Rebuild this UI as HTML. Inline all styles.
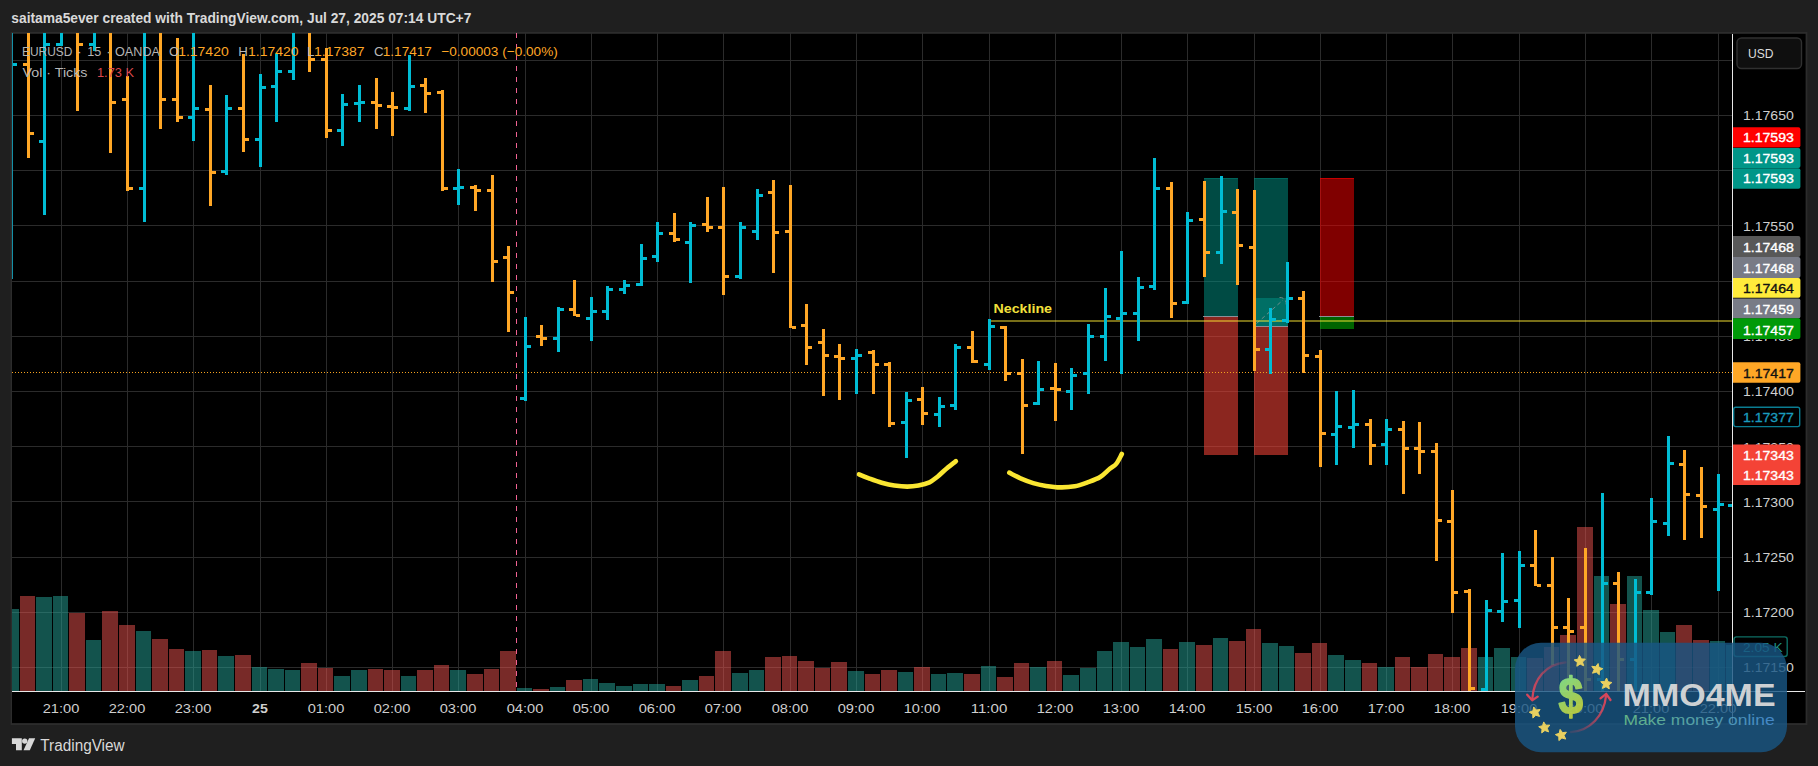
<!DOCTYPE html>
<html lang="en"><head><meta charset="utf-8"><title>EURUSD 15 OANDA chart</title>
<style>
html,body{margin:0;padding:0;background:#1f1f1f;}
body{width:1818px;height:766px;overflow:hidden;position:relative;font-family:"Liberation Sans",sans-serif;}
svg{position:absolute;left:0;top:0;display:block}
text{font-family:"Liberation Sans",sans-serif;}
</style></head><body>
<svg width="1818" height="766" viewBox="0 0 1818 766">
<defs>
<clipPath id="cp"><rect x="12" y="33" width="1720" height="658"/></clipPath>
<linearGradient id="gd" gradientUnits="userSpaceOnUse" x1="-14" y1="-36" x2="14" y2="2"><stop offset="0" stop-color="#86e88a"/><stop offset="1" stop-color="#cfd232"/></linearGradient>
<linearGradient id="ga1" gradientUnits="userSpaceOnUse" x1="1566" y1="662" x2="1532" y2="700"><stop offset="0" stop-color="#d7465a" stop-opacity="0.15"/><stop offset="0.6" stop-color="#d7465a" stop-opacity="0.8"/><stop offset="1" stop-color="#d7465a"/></linearGradient>
<linearGradient id="ga2" gradientUnits="userSpaceOnUse" x1="1571" y1="732" x2="1606" y2="695"><stop offset="0" stop-color="#d7465a" stop-opacity="0.15"/><stop offset="0.6" stop-color="#d7465a" stop-opacity="0.8"/><stop offset="1" stop-color="#d7465a"/></linearGradient>
<linearGradient id="gt" x1="0" y1="0" x2="1" y2="0"><stop offset="0" stop-color="#6fc48a"/><stop offset="1" stop-color="#4a8fd6"/></linearGradient>
</defs>

<rect x="0" y="0" width="1818" height="766" fill="#1f1f1f"/>
<rect x="10.6" y="32" width="1796.8" height="693" fill="#2c2c2c"/>
<rect x="12" y="33.8" width="1793.6" height="689.3" fill="#000"/>
<text x="11.3" y="23.1" font-size="14.4" font-weight="bold" fill="#d9d9d9" textLength="460" lengthAdjust="spacingAndGlyphs">saitama5ever created with TradingView.com, Jul 27, 2025 07:14 UTC+7</text>
<g shape-rendering="crispEdges" stroke="#2b2b2b" stroke-width="1">
<line x1="12" x2="1732" y1="60.5" y2="60.5"/>
<line x1="12" x2="1732" y1="115.5" y2="115.5"/>
<line x1="12" x2="1732" y1="170.5" y2="170.5"/>
<line x1="12" x2="1732" y1="225.5" y2="225.5"/>
<line x1="12" x2="1732" y1="281.5" y2="281.5"/>
<line x1="12" x2="1732" y1="336.5" y2="336.5"/>
<line x1="12" x2="1732" y1="391.5" y2="391.5"/>
<line x1="12" x2="1732" y1="446.5" y2="446.5"/>
<line x1="12" x2="1732" y1="501.5" y2="501.5"/>
<line x1="12" x2="1732" y1="557.5" y2="557.5"/>
<line x1="12" x2="1732" y1="612.5" y2="612.5"/>
<line x1="12" x2="1732" y1="667.5" y2="667.5"/>
<line x1="61.5" x2="61.5" y1="33" y2="691"/>
<line x1="127.5" x2="127.5" y1="33" y2="691"/>
<line x1="193.5" x2="193.5" y1="33" y2="691"/>
<line x1="260.5" x2="260.5" y1="33" y2="691"/>
<line x1="326.5" x2="326.5" y1="33" y2="691"/>
<line x1="392.5" x2="392.5" y1="33" y2="691"/>
<line x1="458.5" x2="458.5" y1="33" y2="691"/>
<line x1="525.5" x2="525.5" y1="33" y2="691"/>
<line x1="591.5" x2="591.5" y1="33" y2="691"/>
<line x1="657.5" x2="657.5" y1="33" y2="691"/>
<line x1="723.5" x2="723.5" y1="33" y2="691"/>
<line x1="790.5" x2="790.5" y1="33" y2="691"/>
<line x1="856.5" x2="856.5" y1="33" y2="691"/>
<line x1="922.5" x2="922.5" y1="33" y2="691"/>
<line x1="989.5" x2="989.5" y1="33" y2="691"/>
<line x1="1055.5" x2="1055.5" y1="33" y2="691"/>
<line x1="1121.5" x2="1121.5" y1="33" y2="691"/>
<line x1="1187.5" x2="1187.5" y1="33" y2="691"/>
<line x1="1254.5" x2="1254.5" y1="33" y2="691"/>
<line x1="1320.5" x2="1320.5" y1="33" y2="691"/>
<line x1="1386.5" x2="1386.5" y1="33" y2="691"/>
<line x1="1452.5" x2="1452.5" y1="33" y2="691"/>
<line x1="1519.5" x2="1519.5" y1="33" y2="691"/>
<line x1="1585.5" x2="1585.5" y1="33" y2="691"/>
<line x1="1651.5" x2="1651.5" y1="33" y2="691"/>
<line x1="1718.5" x2="1718.5" y1="33" y2="691"/>
</g>
<line x1="516.5" x2="516.5" y1="33" y2="691" stroke="#f06292" stroke-width="1" stroke-dasharray="5 6" shape-rendering="crispEdges"/>
<g clip-path="url(#cp)" shape-rendering="crispEdges">
<rect x="3" y="609" width="16" height="82" fill="rgba(38,166,154,0.5)"/>
<rect x="20" y="596" width="15" height="95" fill="rgba(239,83,80,0.5)"/>
<rect x="36" y="597" width="16" height="94" fill="rgba(38,166,154,0.5)"/>
<rect x="53" y="596" width="15" height="95" fill="rgba(38,166,154,0.5)"/>
<rect x="69" y="613" width="16" height="78" fill="rgba(239,83,80,0.5)"/>
<rect x="86" y="640" width="15" height="51" fill="rgba(38,166,154,0.5)"/>
<rect x="102" y="611" width="16" height="80" fill="rgba(239,83,80,0.5)"/>
<rect x="119" y="625" width="16" height="66" fill="rgba(239,83,80,0.5)"/>
<rect x="136" y="631" width="15" height="60" fill="rgba(38,166,154,0.5)"/>
<rect x="152" y="639" width="16" height="52" fill="rgba(239,83,80,0.5)"/>
<rect x="169" y="649" width="15" height="42" fill="rgba(239,83,80,0.5)"/>
<rect x="185" y="651" width="16" height="40" fill="rgba(38,166,154,0.5)"/>
<rect x="202" y="650" width="15" height="41" fill="rgba(239,83,80,0.5)"/>
<rect x="218" y="656" width="16" height="35" fill="rgba(38,166,154,0.5)"/>
<rect x="235" y="655" width="16" height="36" fill="rgba(239,83,80,0.5)"/>
<rect x="252" y="667" width="15" height="24" fill="rgba(38,166,154,0.5)"/>
<rect x="268" y="669" width="16" height="22" fill="rgba(38,166,154,0.5)"/>
<rect x="285" y="670" width="15" height="21" fill="rgba(38,166,154,0.5)"/>
<rect x="301" y="663" width="16" height="28" fill="rgba(239,83,80,0.5)"/>
<rect x="318" y="668" width="15" height="23" fill="rgba(239,83,80,0.5)"/>
<rect x="334" y="676" width="16" height="15" fill="rgba(38,166,154,0.5)"/>
<rect x="351" y="670" width="16" height="21" fill="rgba(38,166,154,0.5)"/>
<rect x="368" y="669" width="15" height="22" fill="rgba(239,83,80,0.5)"/>
<rect x="384" y="670" width="16" height="21" fill="rgba(239,83,80,0.5)"/>
<rect x="401" y="676" width="15" height="15" fill="rgba(38,166,154,0.5)"/>
<rect x="417" y="670" width="16" height="21" fill="rgba(239,83,80,0.5)"/>
<rect x="434" y="665" width="15" height="26" fill="rgba(239,83,80,0.5)"/>
<rect x="450" y="670" width="16" height="21" fill="rgba(38,166,154,0.5)"/>
<rect x="467" y="674" width="16" height="17" fill="rgba(239,83,80,0.5)"/>
<rect x="484" y="669" width="15" height="22" fill="rgba(239,83,80,0.5)"/>
<rect x="500" y="651" width="16" height="40" fill="rgba(239,83,80,0.5)"/>
<rect x="517" y="688" width="15" height="3" fill="rgba(38,166,154,0.5)"/>
<rect x="533" y="689" width="16" height="2" fill="rgba(239,83,80,0.5)"/>
<rect x="550" y="687" width="15" height="4" fill="rgba(38,166,154,0.5)"/>
<rect x="566" y="680" width="16" height="11" fill="rgba(239,83,80,0.5)"/>
<rect x="583" y="679" width="15" height="12" fill="rgba(38,166,154,0.5)"/>
<rect x="599" y="683" width="16" height="8" fill="rgba(38,166,154,0.5)"/>
<rect x="616" y="686" width="16" height="5" fill="rgba(38,166,154,0.5)"/>
<rect x="633" y="684" width="15" height="7" fill="rgba(38,166,154,0.5)"/>
<rect x="649" y="684" width="16" height="7" fill="rgba(38,166,154,0.5)"/>
<rect x="666" y="686" width="15" height="5" fill="rgba(239,83,80,0.5)"/>
<rect x="682" y="680" width="16" height="11" fill="rgba(38,166,154,0.5)"/>
<rect x="699" y="676" width="15" height="15" fill="rgba(239,83,80,0.5)"/>
<rect x="715" y="651" width="16" height="40" fill="rgba(239,83,80,0.5)"/>
<rect x="732" y="673" width="16" height="18" fill="rgba(38,166,154,0.5)"/>
<rect x="749" y="670" width="15" height="21" fill="rgba(38,166,154,0.5)"/>
<rect x="765" y="657" width="16" height="34" fill="rgba(239,83,80,0.5)"/>
<rect x="782" y="656" width="15" height="35" fill="rgba(239,83,80,0.5)"/>
<rect x="798" y="661" width="16" height="30" fill="rgba(239,83,80,0.5)"/>
<rect x="815" y="668" width="15" height="23" fill="rgba(239,83,80,0.5)"/>
<rect x="831" y="662" width="16" height="29" fill="rgba(239,83,80,0.5)"/>
<rect x="848" y="671" width="16" height="20" fill="rgba(38,166,154,0.5)"/>
<rect x="865" y="674" width="15" height="17" fill="rgba(239,83,80,0.5)"/>
<rect x="881" y="670" width="16" height="21" fill="rgba(239,83,80,0.5)"/>
<rect x="898" y="672" width="15" height="19" fill="rgba(38,166,154,0.5)"/>
<rect x="914" y="667" width="16" height="24" fill="rgba(239,83,80,0.5)"/>
<rect x="931" y="674" width="15" height="17" fill="rgba(38,166,154,0.5)"/>
<rect x="947" y="673" width="16" height="18" fill="rgba(38,166,154,0.5)"/>
<rect x="964" y="674" width="16" height="17" fill="rgba(239,83,80,0.5)"/>
<rect x="981" y="666" width="15" height="25" fill="rgba(38,166,154,0.5)"/>
<rect x="997" y="677" width="16" height="14" fill="rgba(239,83,80,0.5)"/>
<rect x="1014" y="663" width="15" height="28" fill="rgba(239,83,80,0.5)"/>
<rect x="1030" y="667" width="16" height="24" fill="rgba(38,166,154,0.5)"/>
<rect x="1047" y="661" width="15" height="30" fill="rgba(239,83,80,0.5)"/>
<rect x="1063" y="675" width="16" height="16" fill="rgba(38,166,154,0.5)"/>
<rect x="1080" y="668" width="16" height="23" fill="rgba(38,166,154,0.5)"/>
<rect x="1097" y="651" width="15" height="40" fill="rgba(38,166,154,0.5)"/>
<rect x="1113" y="642" width="16" height="49" fill="rgba(38,166,154,0.5)"/>
<rect x="1130" y="647" width="15" height="44" fill="rgba(38,166,154,0.5)"/>
<rect x="1146" y="639" width="16" height="52" fill="rgba(38,166,154,0.5)"/>
<rect x="1163" y="649" width="15" height="42" fill="rgba(239,83,80,0.5)"/>
<rect x="1179" y="642" width="16" height="49" fill="rgba(38,166,154,0.5)"/>
<rect x="1196" y="645" width="16" height="46" fill="rgba(239,83,80,0.5)"/>
<rect x="1213" y="638" width="15" height="53" fill="rgba(38,166,154,0.5)"/>
<rect x="1229" y="641" width="16" height="50" fill="rgba(239,83,80,0.5)"/>
<rect x="1246" y="629" width="15" height="62" fill="rgba(239,83,80,0.5)"/>
<rect x="1262" y="643" width="16" height="48" fill="rgba(38,166,154,0.5)"/>
<rect x="1279" y="646" width="15" height="45" fill="rgba(38,166,154,0.5)"/>
<rect x="1295" y="653" width="16" height="38" fill="rgba(239,83,80,0.5)"/>
<rect x="1312" y="643" width="15" height="48" fill="rgba(239,83,80,0.5)"/>
<rect x="1328" y="655" width="16" height="36" fill="rgba(38,166,154,0.5)"/>
<rect x="1345" y="660" width="16" height="31" fill="rgba(38,166,154,0.5)"/>
<rect x="1362" y="663" width="15" height="28" fill="rgba(239,83,80,0.5)"/>
<rect x="1378" y="667" width="16" height="24" fill="rgba(38,166,154,0.5)"/>
<rect x="1395" y="657" width="15" height="34" fill="rgba(239,83,80,0.5)"/>
<rect x="1411" y="667" width="16" height="24" fill="rgba(239,83,80,0.5)"/>
<rect x="1428" y="654" width="15" height="37" fill="rgba(239,83,80,0.5)"/>
<rect x="1444" y="657" width="16" height="34" fill="rgba(239,83,80,0.5)"/>
<rect x="1461" y="648" width="16" height="43" fill="rgba(239,83,80,0.5)"/>
<rect x="1478" y="657" width="15" height="34" fill="rgba(38,166,154,0.5)"/>
<rect x="1494" y="648" width="16" height="43" fill="rgba(38,166,154,0.5)"/>
<rect x="1511" y="657" width="15" height="34" fill="rgba(38,166,154,0.5)"/>
<rect x="1527" y="658" width="16" height="33" fill="rgba(239,83,80,0.5)"/>
<rect x="1544" y="647" width="15" height="44" fill="rgba(239,83,80,0.5)"/>
<rect x="1560" y="635" width="16" height="56" fill="rgba(239,83,80,0.5)"/>
<rect x="1577" y="527" width="16" height="164" fill="rgba(239,83,80,0.5)"/>
<rect x="1594" y="576" width="15" height="115" fill="rgba(38,166,154,0.5)"/>
<rect x="1610" y="604" width="16" height="87" fill="rgba(239,83,80,0.5)"/>
<rect x="1627" y="576" width="15" height="115" fill="rgba(38,166,154,0.5)"/>
<rect x="1643" y="610" width="16" height="81" fill="rgba(38,166,154,0.5)"/>
<rect x="1660" y="632" width="15" height="59" fill="rgba(38,166,154,0.5)"/>
<rect x="1676" y="625" width="16" height="66" fill="rgba(239,83,80,0.5)"/>
<rect x="1693" y="640" width="16" height="51" fill="rgba(239,83,80,0.5)"/>
<rect x="1710" y="641" width="15" height="50" fill="rgba(38,166,154,0.5)"/>
<rect x="1726" y="645" width="16" height="46" fill="rgba(38,166,154,0.5)"/>
</g>
<g shape-rendering="crispEdges">
<rect x="1204" y="178" width="34" height="138" fill="#009688" fill-opacity="0.5"/>
<rect x="1204" y="178" width="34" height="1" fill="#009688" fill-opacity="0.35"/>
<rect x="1204" y="317" width="34" height="138" fill="#f44336" fill-opacity="0.57"/>
<rect x="1203" y="316" width="35" height="1" fill="#8d8f98"/>
<rect x="1254" y="178" width="34" height="120" fill="#009688" fill-opacity="0.5"/>
<rect x="1254" y="178" width="34" height="1" fill="#009688" fill-opacity="0.35"/>
<rect x="1254" y="298" width="34" height="28" fill="#009688" fill-opacity="0.74"/>
<rect x="1254" y="327" width="34" height="128" fill="#f44336" fill-opacity="0.57"/>
<rect x="1254" y="326" width="34" height="1" fill="#8d8f98"/>
<rect x="1320" y="178" width="34" height="138" fill="#ff0000" fill-opacity="0.5"/>
<rect x="1320" y="178" width="34" height="1" fill="#ff0000" fill-opacity="0.55"/>
<rect x="1320" y="178" width="1" height="138" fill="#ff0000" fill-opacity="0.15"/>
<rect x="1320" y="317" width="34" height="12" fill="#00c800" fill-opacity="0.5"/>
<rect x="1319" y="316" width="35" height="1" fill="#8d8f98"/>
</g>
<path d="M1256.5 323.5 L1283 300 M1279.5 297.5 A 6 6 0 0 1 1286 305" fill="none" stroke="#8a9494" stroke-opacity="0.8" stroke-width="1" stroke-dasharray="4 3"/>
<rect x="989" y="320" width="743" height="2" fill="#fae632" fill-opacity="0.48" shape-rendering="crispEdges"/>
<text x="993.5" y="312.5" font-size="12.5" font-weight="bold" fill="#f2e03c" textLength="58.5" lengthAdjust="spacingAndGlyphs">Neckline</text>
<line x1="12" x2="1732" y1="372.5" y2="372.5" stroke="#f5a21f" stroke-width="1" stroke-dasharray="1 2" shape-rendering="crispEdges"/>
<g clip-path="url(#cp)" shape-rendering="crispEdges">
<rect x="12" y="33" width="1" height="246" fill="#1590a6"/><rect x="13" y="63" width="4" height="3" fill="#00bcd4"/>
<rect x="27" y="20" width="3" height="138" fill="#ffa726"/>
<rect x="23" y="63" width="4" height="3" fill="#ffa726"/>
<rect x="30" y="132" width="4" height="3" fill="#ffa726"/>
<rect x="43" y="20" width="3" height="195" fill="#00bcd4"/>
<rect x="39" y="140" width="4" height="3" fill="#00bcd4"/>
<rect x="46" y="43" width="4" height="3" fill="#00bcd4"/>
<rect x="60" y="20" width="3" height="26" fill="#00bcd4"/>
<rect x="56" y="43" width="4" height="3" fill="#00bcd4"/>
<rect x="63" y="18" width="4" height="3" fill="#00bcd4"/>
<rect x="76" y="20" width="3" height="91" fill="#ffa726"/>
<rect x="72" y="18" width="4" height="3" fill="#ffa726"/>
<rect x="79" y="43" width="4" height="3" fill="#ffa726"/>
<rect x="93" y="20" width="3" height="31" fill="#00bcd4"/>
<rect x="89" y="43" width="4" height="3" fill="#00bcd4"/>
<rect x="96" y="18" width="4" height="3" fill="#00bcd4"/>
<rect x="109" y="20" width="3" height="133" fill="#ffa726"/>
<rect x="105" y="18" width="4" height="3" fill="#ffa726"/>
<rect x="112" y="101" width="4" height="3" fill="#ffa726"/>
<rect x="126" y="76" width="3" height="115" fill="#ffa726"/>
<rect x="122" y="98" width="4" height="3" fill="#ffa726"/>
<rect x="129" y="187" width="4" height="3" fill="#ffa726"/>
<rect x="143" y="20" width="3" height="202" fill="#00bcd4"/>
<rect x="139" y="187" width="4" height="3" fill="#00bcd4"/>
<rect x="146" y="18" width="4" height="3" fill="#00bcd4"/>
<rect x="159" y="20" width="3" height="109" fill="#ffa726"/>
<rect x="155" y="18" width="4" height="3" fill="#ffa726"/>
<rect x="162" y="98" width="4" height="3" fill="#ffa726"/>
<rect x="176" y="38" width="3" height="84" fill="#ffa726"/>
<rect x="172" y="98" width="4" height="3" fill="#ffa726"/>
<rect x="179" y="116" width="4" height="3" fill="#ffa726"/>
<rect x="192" y="20" width="3" height="121" fill="#00bcd4"/>
<rect x="188" y="116" width="4" height="3" fill="#00bcd4"/>
<rect x="195" y="107" width="4" height="3" fill="#00bcd4"/>
<rect x="209" y="85" width="3" height="121" fill="#ffa726"/>
<rect x="205" y="108" width="4" height="3" fill="#ffa726"/>
<rect x="212" y="171" width="4" height="3" fill="#ffa726"/>
<rect x="225" y="95" width="3" height="80" fill="#00bcd4"/>
<rect x="221" y="170" width="4" height="3" fill="#00bcd4"/>
<rect x="228" y="107" width="4" height="3" fill="#00bcd4"/>
<rect x="242" y="54" width="3" height="98" fill="#ffa726"/>
<rect x="238" y="107" width="4" height="3" fill="#ffa726"/>
<rect x="245" y="138" width="4" height="3" fill="#ffa726"/>
<rect x="259" y="74" width="3" height="93" fill="#00bcd4"/>
<rect x="255" y="138" width="4" height="3" fill="#00bcd4"/>
<rect x="262" y="86" width="4" height="3" fill="#00bcd4"/>
<rect x="275" y="53" width="3" height="69" fill="#00bcd4"/>
<rect x="271" y="85" width="4" height="3" fill="#00bcd4"/>
<rect x="278" y="70" width="4" height="3" fill="#00bcd4"/>
<rect x="292" y="20" width="3" height="60" fill="#00bcd4"/>
<rect x="288" y="70" width="4" height="3" fill="#00bcd4"/>
<rect x="295" y="18" width="4" height="3" fill="#00bcd4"/>
<rect x="308" y="20" width="3" height="52" fill="#ffa726"/>
<rect x="304" y="18" width="4" height="3" fill="#ffa726"/>
<rect x="311" y="58" width="4" height="3" fill="#ffa726"/>
<rect x="325" y="48" width="3" height="90" fill="#ffa726"/>
<rect x="321" y="58" width="4" height="3" fill="#ffa726"/>
<rect x="328" y="129" width="4" height="3" fill="#ffa726"/>
<rect x="341" y="94" width="3" height="52" fill="#00bcd4"/>
<rect x="337" y="129" width="4" height="3" fill="#00bcd4"/>
<rect x="344" y="103" width="4" height="3" fill="#00bcd4"/>
<rect x="358" y="85" width="3" height="37" fill="#00bcd4"/>
<rect x="354" y="102" width="4" height="3" fill="#00bcd4"/>
<rect x="361" y="101" width="4" height="3" fill="#00bcd4"/>
<rect x="375" y="78" width="3" height="51" fill="#ffa726"/>
<rect x="371" y="101" width="4" height="3" fill="#ffa726"/>
<rect x="378" y="104" width="4" height="3" fill="#ffa726"/>
<rect x="391" y="92" width="3" height="44" fill="#ffa726"/>
<rect x="387" y="105" width="4" height="3" fill="#ffa726"/>
<rect x="394" y="106" width="4" height="3" fill="#ffa726"/>
<rect x="408" y="55" width="3" height="56" fill="#00bcd4"/>
<rect x="404" y="107" width="4" height="3" fill="#00bcd4"/>
<rect x="411" y="85" width="4" height="3" fill="#00bcd4"/>
<rect x="424" y="78" width="3" height="35" fill="#ffa726"/>
<rect x="420" y="84" width="4" height="3" fill="#ffa726"/>
<rect x="427" y="92" width="4" height="3" fill="#ffa726"/>
<rect x="441" y="90" width="3" height="101" fill="#ffa726"/>
<rect x="437" y="91" width="4" height="3" fill="#ffa726"/>
<rect x="444" y="187" width="4" height="3" fill="#ffa726"/>
<rect x="457" y="169" width="3" height="36" fill="#00bcd4"/>
<rect x="453" y="187" width="4" height="3" fill="#00bcd4"/>
<rect x="460" y="186" width="4" height="3" fill="#00bcd4"/>
<rect x="474" y="185" width="3" height="26" fill="#ffa726"/>
<rect x="470" y="186" width="4" height="3" fill="#ffa726"/>
<rect x="477" y="189" width="4" height="3" fill="#ffa726"/>
<rect x="491" y="175" width="3" height="107" fill="#ffa726"/>
<rect x="487" y="189" width="4" height="3" fill="#ffa726"/>
<rect x="494" y="260" width="4" height="3" fill="#ffa726"/>
<rect x="507" y="246" width="3" height="86" fill="#ffa726"/>
<rect x="503" y="256" width="4" height="3" fill="#ffa726"/>
<rect x="510" y="291" width="4" height="3" fill="#ffa726"/>
<rect x="524" y="317" width="3" height="84" fill="#00bcd4"/>
<rect x="520" y="397" width="4" height="3" fill="#00bcd4"/>
<rect x="527" y="345" width="4" height="3" fill="#00bcd4"/>
<rect x="540" y="325" width="3" height="21" fill="#ffa726"/>
<rect x="536" y="335" width="4" height="3" fill="#ffa726"/>
<rect x="543" y="337" width="4" height="3" fill="#ffa726"/>
<rect x="557" y="307" width="3" height="45" fill="#00bcd4"/>
<rect x="553" y="337" width="4" height="3" fill="#00bcd4"/>
<rect x="560" y="308" width="4" height="3" fill="#00bcd4"/>
<rect x="573" y="280" width="3" height="36" fill="#ffa726"/>
<rect x="569" y="308" width="4" height="3" fill="#ffa726"/>
<rect x="576" y="314" width="4" height="3" fill="#ffa726"/>
<rect x="590" y="297" width="3" height="44" fill="#00bcd4"/>
<rect x="586" y="317" width="4" height="3" fill="#00bcd4"/>
<rect x="593" y="310" width="4" height="3" fill="#00bcd4"/>
<rect x="606" y="286" width="3" height="34" fill="#00bcd4"/>
<rect x="602" y="310" width="4" height="3" fill="#00bcd4"/>
<rect x="609" y="288" width="4" height="3" fill="#00bcd4"/>
<rect x="623" y="280" width="3" height="14" fill="#00bcd4"/>
<rect x="619" y="288" width="4" height="3" fill="#00bcd4"/>
<rect x="626" y="284" width="4" height="3" fill="#00bcd4"/>
<rect x="640" y="244" width="3" height="42" fill="#00bcd4"/>
<rect x="636" y="283" width="4" height="3" fill="#00bcd4"/>
<rect x="643" y="257" width="4" height="3" fill="#00bcd4"/>
<rect x="656" y="222" width="3" height="40" fill="#00bcd4"/>
<rect x="652" y="255" width="4" height="3" fill="#00bcd4"/>
<rect x="659" y="232" width="4" height="3" fill="#00bcd4"/>
<rect x="673" y="213" width="3" height="29" fill="#ffa726"/>
<rect x="669" y="232" width="4" height="3" fill="#ffa726"/>
<rect x="676" y="238" width="4" height="3" fill="#ffa726"/>
<rect x="689" y="222" width="3" height="61" fill="#00bcd4"/>
<rect x="685" y="241" width="4" height="3" fill="#00bcd4"/>
<rect x="692" y="224" width="4" height="3" fill="#00bcd4"/>
<rect x="706" y="197" width="3" height="35" fill="#ffa726"/>
<rect x="702" y="223" width="4" height="3" fill="#ffa726"/>
<rect x="709" y="226" width="4" height="3" fill="#ffa726"/>
<rect x="722" y="187" width="3" height="108" fill="#ffa726"/>
<rect x="718" y="226" width="4" height="3" fill="#ffa726"/>
<rect x="725" y="275" width="4" height="3" fill="#ffa726"/>
<rect x="739" y="222" width="3" height="57" fill="#00bcd4"/>
<rect x="735" y="275" width="4" height="3" fill="#00bcd4"/>
<rect x="742" y="226" width="4" height="3" fill="#00bcd4"/>
<rect x="756" y="189" width="3" height="51" fill="#00bcd4"/>
<rect x="752" y="230" width="4" height="3" fill="#00bcd4"/>
<rect x="759" y="194" width="4" height="3" fill="#00bcd4"/>
<rect x="772" y="180" width="3" height="93" fill="#ffa726"/>
<rect x="768" y="191" width="4" height="3" fill="#ffa726"/>
<rect x="775" y="231" width="4" height="3" fill="#ffa726"/>
<rect x="789" y="185" width="3" height="143" fill="#ffa726"/>
<rect x="785" y="230" width="4" height="3" fill="#ffa726"/>
<rect x="792" y="326" width="4" height="3" fill="#ffa726"/>
<rect x="805" y="304" width="3" height="61" fill="#ffa726"/>
<rect x="801" y="324" width="4" height="3" fill="#ffa726"/>
<rect x="808" y="346" width="4" height="3" fill="#ffa726"/>
<rect x="822" y="329" width="3" height="67" fill="#ffa726"/>
<rect x="818" y="341" width="4" height="3" fill="#ffa726"/>
<rect x="825" y="354" width="4" height="3" fill="#ffa726"/>
<rect x="838" y="344" width="3" height="56" fill="#ffa726"/>
<rect x="834" y="355" width="4" height="3" fill="#ffa726"/>
<rect x="841" y="357" width="4" height="3" fill="#ffa726"/>
<rect x="855" y="349" width="3" height="45" fill="#00bcd4"/>
<rect x="851" y="357" width="4" height="3" fill="#00bcd4"/>
<rect x="858" y="354" width="4" height="3" fill="#00bcd4"/>
<rect x="872" y="350" width="3" height="44" fill="#ffa726"/>
<rect x="868" y="351" width="4" height="3" fill="#ffa726"/>
<rect x="875" y="363" width="4" height="3" fill="#ffa726"/>
<rect x="888" y="362" width="3" height="65" fill="#ffa726"/>
<rect x="884" y="363" width="4" height="3" fill="#ffa726"/>
<rect x="891" y="422" width="4" height="3" fill="#ffa726"/>
<rect x="905" y="392" width="3" height="66" fill="#00bcd4"/>
<rect x="901" y="421" width="4" height="3" fill="#00bcd4"/>
<rect x="908" y="399" width="4" height="3" fill="#00bcd4"/>
<rect x="921" y="387" width="3" height="38" fill="#ffa726"/>
<rect x="917" y="398" width="4" height="3" fill="#ffa726"/>
<rect x="924" y="412" width="4" height="3" fill="#ffa726"/>
<rect x="938" y="397" width="3" height="30" fill="#00bcd4"/>
<rect x="934" y="413" width="4" height="3" fill="#00bcd4"/>
<rect x="941" y="405" width="4" height="3" fill="#00bcd4"/>
<rect x="954" y="344" width="3" height="66" fill="#00bcd4"/>
<rect x="950" y="404" width="4" height="3" fill="#00bcd4"/>
<rect x="957" y="346" width="4" height="3" fill="#00bcd4"/>
<rect x="971" y="331" width="3" height="32" fill="#ffa726"/>
<rect x="967" y="346" width="4" height="3" fill="#ffa726"/>
<rect x="974" y="360" width="4" height="3" fill="#ffa726"/>
<rect x="988" y="319" width="3" height="51" fill="#00bcd4"/>
<rect x="984" y="363" width="4" height="3" fill="#00bcd4"/>
<rect x="991" y="325" width="4" height="3" fill="#00bcd4"/>
<rect x="1004" y="326" width="3" height="55" fill="#ffa726"/>
<rect x="1000" y="326" width="4" height="3" fill="#ffa726"/>
<rect x="1007" y="372" width="4" height="3" fill="#ffa726"/>
<rect x="1021" y="359" width="3" height="95" fill="#ffa726"/>
<rect x="1017" y="372" width="4" height="3" fill="#ffa726"/>
<rect x="1024" y="404" width="4" height="3" fill="#ffa726"/>
<rect x="1037" y="361" width="3" height="44" fill="#00bcd4"/>
<rect x="1033" y="402" width="4" height="3" fill="#00bcd4"/>
<rect x="1040" y="388" width="4" height="3" fill="#00bcd4"/>
<rect x="1054" y="363" width="3" height="58" fill="#ffa726"/>
<rect x="1050" y="387" width="4" height="3" fill="#ffa726"/>
<rect x="1057" y="388" width="4" height="3" fill="#ffa726"/>
<rect x="1070" y="368" width="3" height="42" fill="#00bcd4"/>
<rect x="1066" y="390" width="4" height="3" fill="#00bcd4"/>
<rect x="1073" y="374" width="4" height="3" fill="#00bcd4"/>
<rect x="1087" y="324" width="3" height="70" fill="#00bcd4"/>
<rect x="1083" y="372" width="4" height="3" fill="#00bcd4"/>
<rect x="1090" y="335" width="4" height="3" fill="#00bcd4"/>
<rect x="1104" y="288" width="3" height="73" fill="#00bcd4"/>
<rect x="1100" y="335" width="4" height="3" fill="#00bcd4"/>
<rect x="1107" y="315" width="4" height="3" fill="#00bcd4"/>
<rect x="1120" y="251" width="3" height="123" fill="#00bcd4"/>
<rect x="1116" y="317" width="4" height="3" fill="#00bcd4"/>
<rect x="1123" y="312" width="4" height="3" fill="#00bcd4"/>
<rect x="1137" y="277" width="3" height="64" fill="#00bcd4"/>
<rect x="1133" y="312" width="4" height="3" fill="#00bcd4"/>
<rect x="1140" y="286" width="4" height="3" fill="#00bcd4"/>
<rect x="1153" y="158" width="3" height="132" fill="#00bcd4"/>
<rect x="1149" y="285" width="4" height="3" fill="#00bcd4"/>
<rect x="1156" y="187" width="4" height="3" fill="#00bcd4"/>
<rect x="1170" y="182" width="3" height="136" fill="#ffa726"/>
<rect x="1166" y="187" width="4" height="3" fill="#ffa726"/>
<rect x="1173" y="302" width="4" height="3" fill="#ffa726"/>
<rect x="1186" y="212" width="3" height="92" fill="#00bcd4"/>
<rect x="1182" y="301" width="4" height="3" fill="#00bcd4"/>
<rect x="1189" y="219" width="4" height="3" fill="#00bcd4"/>
<rect x="1203" y="181" width="3" height="96" fill="#ffa726"/>
<rect x="1199" y="218" width="4" height="3" fill="#ffa726"/>
<rect x="1206" y="251" width="4" height="3" fill="#ffa726"/>
<rect x="1220" y="176" width="3" height="88" fill="#00bcd4"/>
<rect x="1216" y="251" width="4" height="3" fill="#00bcd4"/>
<rect x="1223" y="210" width="4" height="3" fill="#00bcd4"/>
<rect x="1236" y="189" width="3" height="96" fill="#ffa726"/>
<rect x="1232" y="211" width="4" height="3" fill="#ffa726"/>
<rect x="1239" y="244" width="4" height="3" fill="#ffa726"/>
<rect x="1253" y="190" width="3" height="181" fill="#ffa726"/>
<rect x="1249" y="246" width="4" height="3" fill="#ffa726"/>
<rect x="1256" y="348" width="4" height="3" fill="#ffa726"/>
<rect x="1269" y="308" width="3" height="66" fill="#00bcd4"/>
<rect x="1265" y="348" width="4" height="3" fill="#00bcd4"/>
<rect x="1272" y="318" width="4" height="3" fill="#00bcd4"/>
<rect x="1286" y="262" width="3" height="61" fill="#00bcd4"/>
<rect x="1282" y="319" width="4" height="3" fill="#00bcd4"/>
<rect x="1289" y="297" width="4" height="3" fill="#00bcd4"/>
<rect x="1302" y="291" width="3" height="82" fill="#ffa726"/>
<rect x="1298" y="297" width="4" height="3" fill="#ffa726"/>
<rect x="1305" y="354" width="4" height="3" fill="#ffa726"/>
<rect x="1319" y="350" width="3" height="117" fill="#ffa726"/>
<rect x="1315" y="355" width="4" height="3" fill="#ffa726"/>
<rect x="1322" y="432" width="4" height="3" fill="#ffa726"/>
<rect x="1335" y="391" width="3" height="74" fill="#00bcd4"/>
<rect x="1331" y="433" width="4" height="3" fill="#00bcd4"/>
<rect x="1338" y="425" width="4" height="3" fill="#00bcd4"/>
<rect x="1352" y="390" width="3" height="58" fill="#00bcd4"/>
<rect x="1348" y="426" width="4" height="3" fill="#00bcd4"/>
<rect x="1355" y="423" width="4" height="3" fill="#00bcd4"/>
<rect x="1369" y="419" width="3" height="46" fill="#ffa726"/>
<rect x="1365" y="423" width="4" height="3" fill="#ffa726"/>
<rect x="1372" y="444" width="4" height="3" fill="#ffa726"/>
<rect x="1385" y="419" width="3" height="46" fill="#00bcd4"/>
<rect x="1381" y="443" width="4" height="3" fill="#00bcd4"/>
<rect x="1388" y="428" width="4" height="3" fill="#00bcd4"/>
<rect x="1402" y="421" width="3" height="73" fill="#ffa726"/>
<rect x="1398" y="428" width="4" height="3" fill="#ffa726"/>
<rect x="1405" y="447" width="4" height="3" fill="#ffa726"/>
<rect x="1418" y="422" width="3" height="52" fill="#ffa726"/>
<rect x="1414" y="447" width="4" height="3" fill="#ffa726"/>
<rect x="1421" y="450" width="4" height="3" fill="#ffa726"/>
<rect x="1435" y="443" width="3" height="118" fill="#ffa726"/>
<rect x="1431" y="450" width="4" height="3" fill="#ffa726"/>
<rect x="1438" y="519" width="4" height="3" fill="#ffa726"/>
<rect x="1451" y="490" width="3" height="123" fill="#ffa726"/>
<rect x="1447" y="520" width="4" height="3" fill="#ffa726"/>
<rect x="1454" y="591" width="4" height="3" fill="#ffa726"/>
<rect x="1468" y="589" width="3" height="111" fill="#ffa726"/>
<rect x="1464" y="590" width="4" height="3" fill="#ffa726"/>
<rect x="1471" y="687" width="4" height="3" fill="#ffa726"/>
<rect x="1485" y="600" width="3" height="100" fill="#00bcd4"/>
<rect x="1481" y="688" width="4" height="3" fill="#00bcd4"/>
<rect x="1488" y="609" width="4" height="3" fill="#00bcd4"/>
<rect x="1501" y="553" width="3" height="69" fill="#00bcd4"/>
<rect x="1497" y="610" width="4" height="3" fill="#00bcd4"/>
<rect x="1504" y="600" width="4" height="3" fill="#00bcd4"/>
<rect x="1518" y="551" width="3" height="77" fill="#00bcd4"/>
<rect x="1514" y="599" width="4" height="3" fill="#00bcd4"/>
<rect x="1521" y="564" width="4" height="3" fill="#00bcd4"/>
<rect x="1534" y="530" width="3" height="56" fill="#ffa726"/>
<rect x="1530" y="564" width="4" height="3" fill="#ffa726"/>
<rect x="1537" y="584" width="4" height="3" fill="#ffa726"/>
<rect x="1551" y="557" width="3" height="108" fill="#ffa726"/>
<rect x="1547" y="584" width="4" height="3" fill="#ffa726"/>
<rect x="1554" y="626" width="4" height="3" fill="#ffa726"/>
<rect x="1567" y="598" width="3" height="92" fill="#ffa726"/>
<rect x="1563" y="626" width="4" height="3" fill="#ffa726"/>
<rect x="1570" y="630" width="4" height="3" fill="#ffa726"/>
<rect x="1584" y="548" width="3" height="152" fill="#ffa726"/>
<rect x="1580" y="626" width="4" height="3" fill="#ffa726"/>
<rect x="1587" y="678" width="4" height="3" fill="#ffa726"/>
<rect x="1601" y="493" width="3" height="207" fill="#00bcd4"/>
<rect x="1597" y="678" width="4" height="3" fill="#00bcd4"/>
<rect x="1604" y="582" width="4" height="3" fill="#00bcd4"/>
<rect x="1617" y="572" width="3" height="128" fill="#ffa726"/>
<rect x="1613" y="582" width="4" height="3" fill="#ffa726"/>
<rect x="1620" y="658" width="4" height="3" fill="#ffa726"/>
<rect x="1634" y="579" width="3" height="121" fill="#00bcd4"/>
<rect x="1630" y="658" width="4" height="3" fill="#00bcd4"/>
<rect x="1637" y="591" width="4" height="3" fill="#00bcd4"/>
<rect x="1650" y="498" width="3" height="97" fill="#00bcd4"/>
<rect x="1646" y="591" width="4" height="3" fill="#00bcd4"/>
<rect x="1653" y="520" width="4" height="3" fill="#00bcd4"/>
<rect x="1667" y="436" width="3" height="100" fill="#00bcd4"/>
<rect x="1663" y="522" width="4" height="3" fill="#00bcd4"/>
<rect x="1670" y="462" width="4" height="3" fill="#00bcd4"/>
<rect x="1683" y="450" width="3" height="90" fill="#ffa726"/>
<rect x="1679" y="463" width="4" height="3" fill="#ffa726"/>
<rect x="1686" y="493" width="4" height="3" fill="#ffa726"/>
<rect x="1700" y="467" width="3" height="71" fill="#ffa726"/>
<rect x="1696" y="494" width="4" height="3" fill="#ffa726"/>
<rect x="1703" y="505" width="4" height="3" fill="#ffa726"/>
<rect x="1717" y="474" width="3" height="117" fill="#00bcd4"/>
<rect x="1713" y="508" width="4" height="3" fill="#00bcd4"/>
<rect x="1720" y="503" width="4" height="3" fill="#00bcd4"/>
<rect x="1728" y="504" width="4" height="3" fill="#00bcd4"/>
</g>
<path d="M859.0 474.3 C860.6 475.0 865.1 476.9 868.9 478.3 C872.7 479.7 877.5 481.5 881.7 482.7 C886.0 483.9 890.1 484.9 894.4 485.5 C898.6 486.1 903.2 486.6 907.2 486.6 C911.2 486.6 914.7 486.2 918.4 485.5 C922.1 484.8 926.3 483.8 929.5 482.3 C932.7 480.8 934.8 478.8 937.5 476.7 C940.2 474.6 942.4 472.1 945.5 469.5 C948.6 466.9 954.2 462.5 955.9 461.1" fill="none" stroke="#fae632" stroke-width="4.6" stroke-linecap="round" stroke-linejoin="round"/>
<path d="M1009.3 472.7 C1011.2 473.6 1016.5 476.6 1020.5 478.3 C1024.5 480.0 1029.0 481.8 1033.2 483.1 C1037.5 484.4 1041.5 485.2 1046.0 485.9 C1050.5 486.6 1055.5 487.3 1060.3 487.4 C1065.1 487.5 1070.2 487.1 1074.7 486.3 C1079.2 485.5 1083.2 483.9 1087.5 482.3 C1091.8 480.8 1096.5 479.3 1100.2 477.0 C1103.9 474.7 1107.1 470.9 1109.8 468.7 C1112.5 466.5 1114.2 466.3 1116.2 463.9 C1118.2 461.4 1120.9 455.6 1121.8 454.0" fill="none" stroke="#fae632" stroke-width="4.6" stroke-linecap="round" stroke-linejoin="round"/>
<rect x="12" y="691" width="1793" height="1" fill="#e8e8e8" shape-rendering="crispEdges"/>
<rect x="1732" y="34" width="1" height="689" fill="#e8e8e8" shape-rendering="crispEdges"/>
<g font-size="13.3">
<text y="55.7" fill="#b4b4b4"><tspan x="22" textLength="50.4" lengthAdjust="spacingAndGlyphs">EURUSD</tspan><tspan x="77.2">·</tspan><tspan x="87.2" textLength="14" lengthAdjust="spacingAndGlyphs">15</tspan><tspan x="106.3">·</tspan><tspan x="115" textLength="45" lengthAdjust="spacingAndGlyphs">OANDA</tspan></text>
<text x="169" y="55.7" fill="#b8b8b8">O</text><text x="178.2" y="55.7" fill="#ffa726" textLength="50.5" lengthAdjust="spacingAndGlyphs">1.17420</text>
<text x="238.3" y="55.7" fill="#b8b8b8">H</text><text x="248" y="55.7" fill="#ffa726" textLength="50.5" lengthAdjust="spacingAndGlyphs">1.17420</text>
<text x="307" y="55.7" fill="#b8b8b8">L</text><text x="314" y="55.7" fill="#ffa726" textLength="50.5" lengthAdjust="spacingAndGlyphs">1.17387</text>
<text x="374" y="55.7" fill="#b8b8b8">C</text><text x="382.8" y="55.7" fill="#ffa726" textLength="49" lengthAdjust="spacingAndGlyphs">1.17417</text>
<text x="441.3" y="55.7" fill="#ffa726" textLength="116.5" lengthAdjust="spacingAndGlyphs">−0.00003 (−0.00%)</text>
<text x="22.5" y="76.5" fill="#b8b8b8" textLength="65" lengthAdjust="spacingAndGlyphs">Vol · Ticks</text>
<text x="97" y="76.5" fill="#dd484c" textLength="37" lengthAdjust="spacingAndGlyphs">1.73 K</text>
</g>
<g font-size="13.3" fill="#cfcfcf">
<text x="42.7" y="712.8" textLength="36.6" lengthAdjust="spacingAndGlyphs">21:00</text>
<text x="108.7" y="712.8" textLength="36.6" lengthAdjust="spacingAndGlyphs">22:00</text>
<text x="174.7" y="712.8" textLength="36.6" lengthAdjust="spacingAndGlyphs">23:00</text>
<text x="252.1" y="712.8" font-weight="bold" textLength="15.8" lengthAdjust="spacingAndGlyphs">25</text>
<text x="307.7" y="712.8" textLength="36.6" lengthAdjust="spacingAndGlyphs">01:00</text>
<text x="373.7" y="712.8" textLength="36.6" lengthAdjust="spacingAndGlyphs">02:00</text>
<text x="439.7" y="712.8" textLength="36.6" lengthAdjust="spacingAndGlyphs">03:00</text>
<text x="506.7" y="712.8" textLength="36.6" lengthAdjust="spacingAndGlyphs">04:00</text>
<text x="572.7" y="712.8" textLength="36.6" lengthAdjust="spacingAndGlyphs">05:00</text>
<text x="638.7" y="712.8" textLength="36.6" lengthAdjust="spacingAndGlyphs">06:00</text>
<text x="704.7" y="712.8" textLength="36.6" lengthAdjust="spacingAndGlyphs">07:00</text>
<text x="771.7" y="712.8" textLength="36.6" lengthAdjust="spacingAndGlyphs">08:00</text>
<text x="837.7" y="712.8" textLength="36.6" lengthAdjust="spacingAndGlyphs">09:00</text>
<text x="903.7" y="712.8" textLength="36.6" lengthAdjust="spacingAndGlyphs">10:00</text>
<text x="970.7" y="712.8" textLength="36.6" lengthAdjust="spacingAndGlyphs">11:00</text>
<text x="1036.7" y="712.8" textLength="36.6" lengthAdjust="spacingAndGlyphs">12:00</text>
<text x="1102.7" y="712.8" textLength="36.6" lengthAdjust="spacingAndGlyphs">13:00</text>
<text x="1168.7" y="712.8" textLength="36.6" lengthAdjust="spacingAndGlyphs">14:00</text>
<text x="1235.7" y="712.8" textLength="36.6" lengthAdjust="spacingAndGlyphs">15:00</text>
<text x="1301.7" y="712.8" textLength="36.6" lengthAdjust="spacingAndGlyphs">16:00</text>
<text x="1367.7" y="712.8" textLength="36.6" lengthAdjust="spacingAndGlyphs">17:00</text>
<text x="1433.7" y="712.8" textLength="36.6" lengthAdjust="spacingAndGlyphs">18:00</text>
<text x="1500.7" y="712.8" textLength="36.6" lengthAdjust="spacingAndGlyphs">19:00</text>
<text x="1566.7" y="712.8" textLength="36.6" lengthAdjust="spacingAndGlyphs">20:00</text>
<text x="1632.7" y="712.8" textLength="36.6" lengthAdjust="spacingAndGlyphs">21:00</text>
<text x="1699.7" y="712.8" textLength="36.6" lengthAdjust="spacingAndGlyphs">22:00</text>
</g>
<g font-size="13.3" fill="#cfcfcf">
<text x="1742.9" y="119.8" textLength="51" lengthAdjust="spacingAndGlyphs">1.17650</text>
<text x="1742.9" y="231.1" textLength="51" lengthAdjust="spacingAndGlyphs">1.17550</text>
<text x="1742.9" y="341.1" textLength="51" lengthAdjust="spacingAndGlyphs">1.17450</text>
<text x="1742.9" y="396.2" textLength="51" lengthAdjust="spacingAndGlyphs">1.17400</text>
<text x="1742.9" y="451.5" textLength="51" lengthAdjust="spacingAndGlyphs">1.17350</text>
<text x="1742.9" y="506.8" textLength="51" lengthAdjust="spacingAndGlyphs">1.17300</text>
<text x="1742.9" y="561.8" textLength="51" lengthAdjust="spacingAndGlyphs">1.17250</text>
<text x="1742.9" y="617.0" textLength="51" lengthAdjust="spacingAndGlyphs">1.17200</text>
<text x="1742.9" y="672.2" textLength="51" lengthAdjust="spacingAndGlyphs">1.17150</text>
</g>
<path d="M1733 127.2 h65.4 a2 2 0 0 1 2 2 v16.4 a2 2 0 0 1 -2 2 h-65.4 z" fill="#ff0000"/>
<text x="1742.9" y="142.4" font-size="13.3" fill="#fff" stroke="#fff" stroke-width="0.35" textLength="51" lengthAdjust="spacingAndGlyphs">1.17593</text>
<path d="M1733 148 h65.4 a2 2 0 0 1 2 2 v16.0 a2 2 0 0 1 -2 2 h-65.4 z" fill="#009688"/>
<text x="1742.9" y="162.7" font-size="13.3" fill="#fff" stroke="#fff" stroke-width="0.35" textLength="51" lengthAdjust="spacingAndGlyphs">1.17593</text>
<path d="M1733 168.2 h65.4 a2 2 0 0 1 2 2 v16.6 a2 2 0 0 1 -2 2 h-65.4 z" fill="#009688"/>
<text x="1742.9" y="183.2" font-size="13.3" fill="#fff" stroke="#fff" stroke-width="0.35" textLength="51" lengthAdjust="spacingAndGlyphs">1.17593</text>
<path d="M1733 236.1 h65.4 a2 2 0 0 1 2 2 v16.9 a2 2 0 0 1 -2 2 h-65.4 z" fill="#585858"/>
<text x="1742.9" y="252.3" font-size="13.3" fill="#fff" stroke="#fff" stroke-width="0.35" textLength="51" lengthAdjust="spacingAndGlyphs">1.17468</text>
<path d="M1733 257 h65.4 a2 2 0 0 1 2 2 v17.1 a2 2 0 0 1 -2 2 h-65.4 z" fill="#787b86"/>
<text x="1742.9" y="273.1" font-size="13.3" fill="#fff" stroke="#fff" stroke-width="0.35" textLength="51" lengthAdjust="spacingAndGlyphs">1.17468</text>
<path d="M1733 278.1 h65.4 a2 2 0 0 1 2 2 v15.7 a2 2 0 0 1 -2 2 h-65.4 z" fill="#ffeb3b"/>
<text x="1742.9" y="293" font-size="13.3" fill="#111" stroke="#111" stroke-width="0.35" textLength="51" lengthAdjust="spacingAndGlyphs">1.17464</text>
<path d="M1733 298.4 h65.4 a2 2 0 0 1 2 2 v16.2 a2 2 0 0 1 -2 2 h-65.4 z" fill="#787b86"/>
<text x="1742.9" y="314.2" font-size="13.3" fill="#fff" stroke="#fff" stroke-width="0.35" textLength="51" lengthAdjust="spacingAndGlyphs">1.17459</text>
<path d="M1733 318.3 h65.4 a2 2 0 0 1 2 2 v16.6 a2 2 0 0 1 -2 2 h-65.4 z" fill="#009a08"/>
<text x="1742.9" y="334.5" font-size="13.3" fill="#fff" stroke="#fff" stroke-width="0.35" textLength="51" lengthAdjust="spacingAndGlyphs">1.17457</text>
<path d="M1733 362.3 h65.4 a2 2 0 0 1 2 2 v16.5 a2 2 0 0 1 -2 2 h-65.4 z" fill="#ffa726"/>
<text x="1742.9" y="377.9" font-size="13.3" fill="#111" stroke="#111" stroke-width="0.35" textLength="51" lengthAdjust="spacingAndGlyphs">1.17417</text>
<rect x="1733.7" y="407.3" width="66.0" height="19.3" rx="2" fill="#000" stroke="#0a7d92" stroke-width="1.4"/>
<text x="1742.9" y="421.8" font-size="13.3" fill="#1a9bbd" stroke="#1a9bbd" stroke-width="0.35" textLength="51" lengthAdjust="spacingAndGlyphs">1.17377</text>
<path d="M1733 444.6 h65.4 a2 2 0 0 1 2 2 v36.4 a2 2 0 0 1 -2 2 h-65.4 z" fill="#f44336"/>
<text x="1742.9" y="460.2" font-size="13.3" fill="#fff" stroke="#fff" stroke-width="0.35" textLength="51" lengthAdjust="spacingAndGlyphs">1.17343</text>
<text x="1742.9" y="479.7" font-size="13.3" fill="#fff" stroke="#fff" stroke-width="0.35" textLength="51" lengthAdjust="spacingAndGlyphs">1.17343</text>
<rect x="1734" y="636.9" width="53.2" height="19.6" rx="2.5" fill="#000" stroke="#0e6e64" stroke-width="1.4"/>
<text x="1743" y="652" font-size="13.3" fill="#1e8f84" textLength="39.5" lengthAdjust="spacingAndGlyphs">2.05 K</text>
<rect x="1737" y="38" width="64.5" height="30.5" rx="4.5" fill="#0f0f0f" stroke="#303030" stroke-width="1.4"/>
<text x="1748" y="58.1" font-size="13.3" fill="#dcdcdc" textLength="25.5" lengthAdjust="spacingAndGlyphs">USD</text>
<g fill="#d9d9d9"><path d="M11.9 738.3 h9.9 v12 h-5.8 v-6.3 h-4.1 z"/><circle cx="24.75" cy="741.1" r="2.7"/><path d="M29 738.3 h6.2 l-5.4 12 h-6.3 z"/></g>
<text x="40.3" y="750.8" font-size="16" fill="#d9d9d9" textLength="84.3" lengthAdjust="spacingAndGlyphs">TradingView</text>
<rect x="1515" y="642.8" width="272" height="109.4" rx="26" fill="#195583" fill-opacity="0.82"/>
<polygon points="1579.5,655.4 1581.4,658.9 1585.4,659.1 1582.6,662.0 1583.7,665.8 1580.1,664.1 1576.8,666.3 1577.3,662.4 1574.2,659.9 1578.1,659.1" fill="#e8d060" stroke="#e8d060" stroke-width="1" stroke-linejoin="round"/>
<polygon points="1598.1,663.5 1599.0,667.4 1602.8,668.7 1599.4,670.7 1599.3,674.7 1596.3,672.1 1592.5,673.2 1594.1,669.6 1591.8,666.3 1595.7,666.7" fill="#e8d060" stroke="#e8d060" stroke-width="1" stroke-linejoin="round"/>
<polygon points="1606.6,678.0 1608.0,681.7 1611.9,682.5 1608.8,685.0 1609.3,688.9 1606.0,686.7 1602.4,688.4 1603.5,684.6 1600.7,681.7 1604.7,681.5" fill="#e8d060" stroke="#e8d060" stroke-width="1" stroke-linejoin="round"/>
<polygon points="1533.7,706.9 1536.2,710.0 1540.1,709.5 1537.9,712.8 1539.6,716.4 1535.8,715.3 1532.9,718.1 1532.7,714.1 1529.2,712.2 1532.9,710.8" fill="#e8d060" stroke="#e8d060" stroke-width="1" stroke-linejoin="round"/>
<polygon points="1543.7,721.9 1545.8,725.2 1549.8,725.1 1547.3,728.2 1548.6,731.9 1544.9,730.5 1541.7,732.9 1542.0,728.9 1538.7,726.7 1542.5,725.7" fill="#e8d060" stroke="#e8d060" stroke-width="1" stroke-linejoin="round"/>
<polygon points="1560.1,729.4 1562.5,732.6 1566.4,732.2 1564.1,735.5 1565.7,739.1 1561.9,738.0 1558.9,740.6 1558.8,736.6 1555.4,734.6 1559.2,733.3" fill="#e8d060" stroke="#e8d060" stroke-width="1" stroke-linejoin="round"/>
<path d="M1565.5 662.3 C 1546 664, 1533.5 679, 1532.3 699" fill="none" stroke="url(#ga1)" stroke-width="2.3" stroke-linecap="round"/>
<path d="M1527.2 694.7 L1532.2 700.3 L1537.7 696.6" fill="none" stroke="#d7465a" stroke-width="2.3" stroke-linecap="round" stroke-linejoin="round"/>
<path d="M1571 732.1 C 1590 731, 1604 716, 1606.1 695.5" fill="none" stroke="url(#ga2)" stroke-width="2.3" stroke-linecap="round"/>
<path d="M1600.5 698.3 L1606.2 693.8 L1610.5 700" fill="none" stroke="#d7465a" stroke-width="2.3" stroke-linecap="round" stroke-linejoin="round"/>
<text transform="translate(1570.7,713.6) scale(0.84,1)" x="0" y="0" font-size="52.5" font-weight="bold" opacity="0.9" fill="url(#gd)" stroke="url(#gd)" stroke-width="1.6" stroke-linejoin="round" text-anchor="middle">$</text>
<text x="1622.6" y="705.7" font-size="31" font-weight="bold" fill="#dadada" fill-opacity="0.95" textLength="153" lengthAdjust="spacingAndGlyphs">MMO4ME</text>
<text x="1623.4" y="725.4" font-size="14.4" fill="url(#gt)" fill-opacity="0.88" textLength="151.2" lengthAdjust="spacingAndGlyphs">Make money online</text>
</svg></body></html>
